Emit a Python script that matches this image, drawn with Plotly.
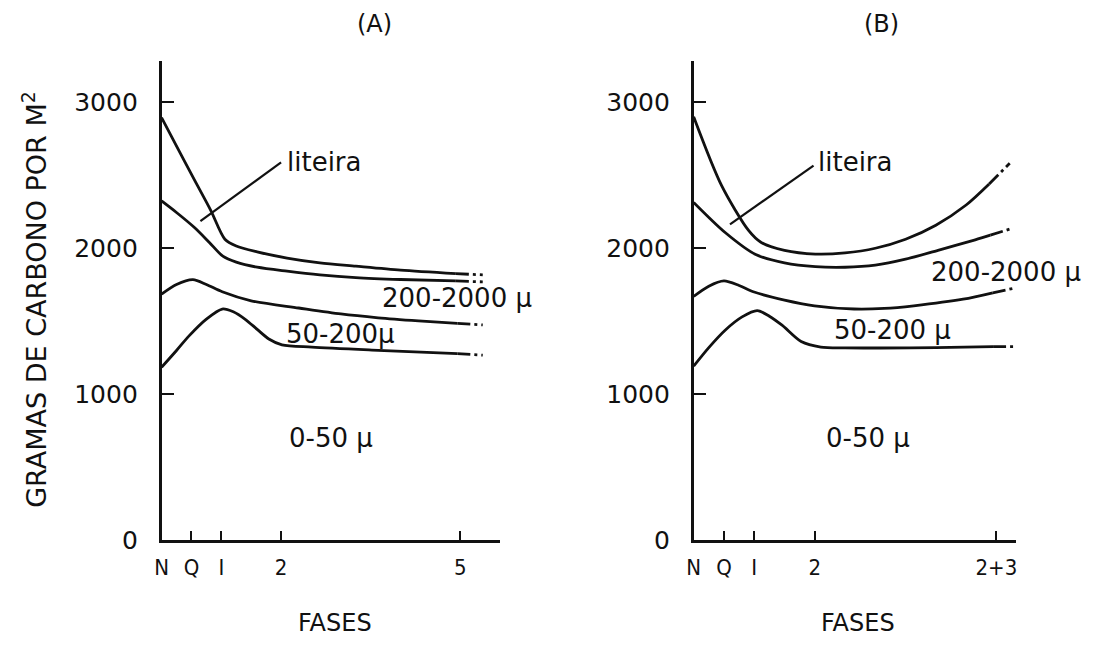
import plotly.graph_objects as go

# ---------------- data (x in phase units: N=0, Q=1, I=2, 2=4, 5 / 2+3 = 10) -------------
# Panel A
a_lit_x = [0, 0.55, 1.1, 1.65, 2.12, 2.5, 3.2, 4.2, 5.3, 6.5, 8.0, 9.85, 10.75]
a_lit_y = [2895, 2680, 2468, 2258, 2062, 2015, 1975, 1933, 1900, 1877, 1850, 1826, 1818]

a_big_x = [0, 0.5, 1.1, 1.6, 2.05, 2.5, 3.2, 4.2, 5.3, 6.5, 8.0, 9.85, 10.75]
a_big_y = [2324, 2245, 2142, 2040, 1946, 1905, 1870, 1843, 1818, 1799, 1786, 1776, 1770]

a_mid_x = [0, 0.5, 1.05, 1.5, 2.03, 3.0, 4.59, 6.0, 7.25, 8.6, 9.9, 10.75]
a_mid_y = [1686, 1752, 1785, 1752, 1702, 1640, 1591, 1550, 1524, 1503, 1486, 1475]

a_fine_x = [0, 0.5, 0.92, 1.5, 2.03, 2.4, 2.81, 3.2, 3.59, 4.03, 5.03, 7.25, 9.9, 10.75]
a_fine_y = [1185, 1300, 1400, 1515, 1584, 1565, 1512, 1445, 1379, 1339, 1323, 1301, 1278, 1268]

# Panel B
b_lit_x = [0, 0.92, 1.82, 2.22, 3.0, 4.02, 5.0, 6.0, 7.0, 8.0, 9.0, 9.76, 10.44]
b_lit_y = [2900, 2430, 2120, 2041, 1985, 1960, 1968, 2000, 2062, 2158, 2296, 2440, 2582]

b_big_x = [0, 1.04, 2.05, 3.0, 4.02, 5.0, 6.0, 7.0, 8.07, 9.3, 9.8, 10.55]
b_big_y = [2314, 2108, 1957, 1900, 1874, 1870, 1884, 1925, 1986, 2058, 2090, 2138]

b_mid_x = [0, 0.5, 1.0, 1.5, 1.97, 3.0, 3.99, 5.3, 6.3, 7.27, 8.9, 9.88, 10.6]
b_mid_y = [1670, 1740, 1776, 1745, 1702, 1645, 1606, 1584, 1588, 1606, 1651, 1695, 1727]

b_fine_x = [0, 0.5, 1.04, 1.6, 2.1, 2.5, 2.92, 3.55, 4.2, 5.0, 6.17, 8.0, 9.89, 10.6]
b_fine_y = [1193, 1320, 1439, 1530, 1573, 1535, 1473, 1361, 1323, 1318, 1317, 1320, 1326, 1327]

tick_vals = [0, 1, 2, 4, 10]
tick_text_a = ["N", "Q", "I", "2", "5"]
tick_text_b = ["N", "Q", "I", "2", "2+3"]
y_ticks = [0, 1000, 2000, 3000]

# ---------------- figure ---------------------------------------------------------
W, H = 1097, 656
BLACK = "#111111"
LW = 2.8
FONT = "DejaVu Sans"

fig = go.Figure()


def add_curve(x, y, xa, ya):
    # solid body, dash-dot tail (last segment)
    fig.add_trace(go.Scatter(x=x[:-1], y=y[:-1], mode="lines", xaxis=xa, yaxis=ya,
                             line=dict(color=BLACK, width=LW, shape="spline", smoothing=0.8),
                             hoverinfo="skip", showlegend=False))
    fig.add_trace(go.Scatter(x=x[-2:], y=y[-2:], mode="lines", xaxis=xa, yaxis=ya,
                             line=dict(color=BLACK, width=LW, dash="13px,4px,3px,4px"),
                             hoverinfo="skip", showlegend=False))


for cx, cy in [(a_lit_x, a_lit_y), (a_big_x, a_big_y), (a_mid_x, a_mid_y), (a_fine_x, a_fine_y)]:
    add_curve(cx, cy, "x", "y")
for cx, cy in [(b_lit_x, b_lit_y), (b_big_x, b_big_y), (b_mid_x, b_mid_y), (b_fine_x, b_fine_y)]:
    add_curve(cx, cy, "x2", "y2")

# pointer lines for "liteira"
fig.add_trace(go.Scatter(x=[4.0, 1.3], y=[2588, 2186], mode="lines", xaxis="x", yaxis="y",
                         line=dict(color=BLACK, width=2.2), hoverinfo="skip", showlegend=False))
fig.add_trace(go.Scatter(x=[3.96, 1.2], y=[2566, 2164], mode="lines", xaxis="x2", yaxis="y2",
                         line=dict(color=BLACK, width=2.2), hoverinfo="skip", showlegend=False))

y_dom = [103 / H, 594 / H]
xa_common = dict(showline=True, linecolor=BLACK, linewidth=2.5, ticks="inside", ticklen=10,
                 tickwidth=2, tickcolor=BLACK, showgrid=False, zeroline=False,
                 tickvals=tick_vals, ticklabelstandoff=5,
                 tickfont=dict(family="DejaVu Sans Condensed, Liberation Sans Narrow, DejaVu Sans",
                               size=22, color=BLACK))
ya_common = dict(showline=True, linecolor=BLACK, linewidth=2.5, ticks="inside", ticklen=13,
                 tickwidth=2, tickcolor=BLACK, showgrid=False, zeroline=False,
                 tickvals=y_ticks, range=[0, 3285], domain=y_dom, ticklabelstandoff=16,
                 tickfont=dict(family=FONT, size=25, color=BLACK))

fig.update_layout(
    autosize=True, margin=dict(l=0, r=0, t=0, b=0, pad=0),
    paper_bgcolor="white", plot_bgcolor="white",
    font=dict(family=FONT, color=BLACK),
    xaxis=dict(domain=[155.7 / W, 497 / W], range=[0, 11.34], anchor="y",
               ticktext=tick_text_a, **xa_common),
    yaxis=dict(anchor="x", **ya_common),
    xaxis2=dict(domain=[691.7 / W, 1016.5 / W], range=[0, 10.65], anchor="y2",
                ticktext=tick_text_b, **xa_common),
    yaxis2=dict(anchor="x2", **ya_common),
)

ann = []
lab = dict(size=26, color=BLACK, family=FONT)
# panel A labels
ann += [
    dict(x=4.12, y=2588, xref="x", yref="y", text="liteira", xanchor="left", yanchor="middle",
         showarrow=False, font=lab),
    dict(x=9.88, y=1660, xref="x", yref="y", text="200-2000 μ", xanchor="center", yanchor="middle",
         showarrow=False, font=lab),
    dict(x=5.99, y=1415, xref="x", yref="y", text="50-200μ", xanchor="center", yanchor="middle",
         showarrow=False, font=lab),
    dict(x=5.68, y=703, xref="x", yref="y", text="0-50 μ", xanchor="center", yanchor="middle",
         showarrow=False, font=lab),
]
# panel B labels
ann += [
    dict(x=4.05, y=2588, xref="x2", yref="y2", text="liteira", xanchor="left", yanchor="middle",
         showarrow=False, font=lab),
    dict(x=10.33, y=1840, xref="x2", yref="y2", text="200-2000 μ", xanchor="center", yanchor="middle",
         showarrow=False, font=lab),
    dict(x=6.56, y=1439, xref="x2", yref="y2", text="50-200 μ", xanchor="center", yanchor="middle",
         showarrow=False, font=lab),
    dict(x=5.75, y=703, xref="x2", yref="y2", text="0-50 μ", xanchor="center", yanchor="middle",
         showarrow=False, font=lab),
]
# titles, axis titles
ann += [
    dict(x=370.7 / W, y=1 - 25 / H, xref="paper", yref="paper", text="(A)", showarrow=False,
         xanchor="center", yanchor="middle", font=dict(size=24, color=BLACK, family=FONT)),
    dict(x=880.7 / W, y=1 - 25 / H, xref="paper", yref="paper", text="(B)", showarrow=False,
         xanchor="center", yanchor="middle", font=dict(size=24, color=BLACK, family=FONT)),
    dict(x=330 / W, y=1 - 638 / H, xref="paper", yref="paper", text="FASES", showarrow=False,
         xanchor="center", yanchor="middle", font=dict(size=24, color=BLACK, family=FONT)),
    dict(x=857 / W, y=1 - 638 / H, xref="paper", yref="paper", text="FASES", showarrow=False,
         xanchor="center", yanchor="middle", font=dict(size=24, color=BLACK, family=FONT)),
    dict(x=27 / W, y=1 - 306 / H, xref="paper", yref="paper", text="GRAMAS DE CARBONO POR M<sup>2</sup>",
         showarrow=False, textangle=-90, xanchor="center", yanchor="middle",
         font=dict(size=27, color=BLACK, family=FONT)),
]
fig.update_layout(annotations=ann)

fig.write_html(
    "out.html",
    config={"displayModeBar": False, "responsive": True},
    default_width="100vw",
    default_height="100vh",
    post_script="document.documentElement.style.margin='0';document.body.style.margin='0';"
                "document.documentElement.style.overflow='hidden';document.body.style.overflow='hidden';"
                "window.dispatchEvent(new Event('resize'));",
)
